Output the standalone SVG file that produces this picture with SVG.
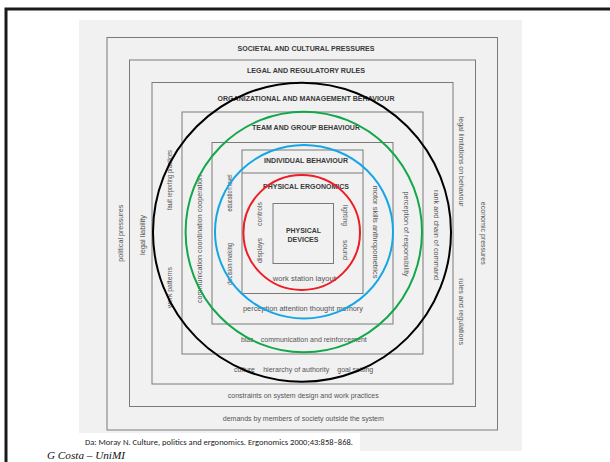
<svg xmlns="http://www.w3.org/2000/svg" width="610" height="462" viewBox="0 0 610 462">
  <style>
    .box { fill: none; stroke: #7a7a7a; stroke-width: 1; }
    .hd { font-family: "Liberation Sans", Arial, sans-serif; font-weight: bold; fill: #3a3a3a; text-anchor: middle; }
    .lb { font-family: "Liberation Sans", Arial, sans-serif; font-size: 7px; fill: #555; text-anchor: middle; }
    .ring { fill: none; stroke-width: 2; }
  </style>

  <rect width="610" height="462" fill="#ffffff"/>
  <!-- slide frame -->
  <path d="M6,462 V9 H610" fill="none" stroke="#1a1a1a" stroke-width="3"/>

  <!-- scanned figure background -->
  <rect x="79" y="20" width="443" height="431" fill="#f1f1f1"/>

  <!-- nested levels -->
  <g id="level-societal">
    <rect class="box" x="107" y="37.5" width="390.5" height="392.5"/>
    <text class="hd" x="306" y="50.5" font-size="6.5" textLength="137" lengthAdjust="spacingAndGlyphs">SOCIETAL AND CULTURAL PRESSURES</text>
    <text class="lb" x="303.3" y="420.5" textLength="161" lengthAdjust="spacingAndGlyphs">demands by members of society outside the system</text>
    <text class="lb" transform="translate(122.5,233.3) rotate(-90)" textLength="57" lengthAdjust="spacingAndGlyphs">political pressures</text>
    <text class="lb" transform="translate(481,233.3) rotate(90)" textLength="63" lengthAdjust="spacingAndGlyphs">economic pressures</text>
  </g>

  <g id="level-legal">
    <rect class="box" x="129.5" y="60" width="346" height="346.5"/>
    <text class="hd" x="306" y="73.3" font-size="6.5" textLength="118" lengthAdjust="spacingAndGlyphs">LEGAL AND REGULATORY RULES</text>
    <text class="lb" x="303.3" y="397.5" textLength="151" lengthAdjust="spacingAndGlyphs">constraints on system design and work practices</text>
    <text class="lb" transform="translate(145.2,235) rotate(-90)" textLength="40" lengthAdjust="spacingAndGlyphs">legal liability</text>
    <text class="lb" transform="translate(459.2,161.7) rotate(90)" textLength="90" lengthAdjust="spacingAndGlyphs">legal limitations on behaviour</text>
    <text class="lb" transform="translate(459.2,311.7) rotate(90)" textLength="67" lengthAdjust="spacingAndGlyphs">rules and regulations</text>
  </g>

  <g id="level-organizational">
    <rect class="box" x="152" y="82.5" width="301" height="301.5"/>
    <text class="hd" x="306" y="101" font-size="7.5" textLength="177" lengthAdjust="spacingAndGlyphs">ORGANIZATIONAL AND MANAGEMENT BEHAVIOUR</text>
    <text class="lb" x="244.5" y="371.5" textLength="21" lengthAdjust="spacingAndGlyphs">culture</text>
    <text class="lb" x="296.2" y="371.5" textLength="66" lengthAdjust="spacingAndGlyphs">hierarchy of authority</text>
    <text class="lb" x="355.3" y="371.5" textLength="36" lengthAdjust="spacingAndGlyphs">goal setting</text>
    <text class="lb" transform="translate(172,180) rotate(-90)" textLength="60" lengthAdjust="spacingAndGlyphs">fault reporting practices</text>
    <text class="lb" transform="translate(172,287.5) rotate(-90)" textLength="41" lengthAdjust="spacingAndGlyphs">work patterns</text>
    <text class="lb" transform="translate(434.2,235) rotate(90)" textLength="90" lengthAdjust="spacingAndGlyphs">rank and chain of command</text>
  </g>

  <g id="level-team">
    <rect class="box" x="182" y="112" width="241" height="242"/>
    <text class="hd" x="306" y="130" font-size="7.5" textLength="108" lengthAdjust="spacingAndGlyphs">TEAM AND GROUP BEHAVIOUR</text>
    <text class="lb" x="247.2" y="341.5" textLength="12.5" lengthAdjust="spacingAndGlyphs">bias</text>
    <text class="lb" x="313.8" y="341.5" textLength="106" lengthAdjust="spacingAndGlyphs">communication and reinforcement</text>
    <text class="lb" transform="translate(201.8,239) rotate(-90)" textLength="128" lengthAdjust="spacingAndGlyphs">communication coordination cooperation</text>
    <text class="lb" transform="translate(404.2,234) rotate(90)" textLength="85" lengthAdjust="spacingAndGlyphs">perception of responsibility</text>
  </g>

  <g id="level-individual">
    <rect class="box" x="212" y="142.5" width="181" height="181.5"/>
    <rect class="box" x="242" y="150" width="121" height="143.5"/>
    <line class="box" x1="242" y1="173" x2="363" y2="173"/>
    <text class="hd" x="306" y="163.3" font-size="7" textLength="84" lengthAdjust="spacingAndGlyphs">INDIVIDUAL BEHAVIOUR</text>
    <text class="lb" x="303" y="310.5" textLength="120" lengthAdjust="spacingAndGlyphs">perception attention thought memory</text>
    <text class="lb" transform="translate(231.8,193) rotate(-90)" textLength="37" lengthAdjust="spacingAndGlyphs">education level</text>
    <text class="lb" transform="translate(231.8,264) rotate(-90)" textLength="42" lengthAdjust="spacingAndGlyphs">decision making</text>
    <text class="lb" transform="translate(372.5,232) rotate(90)" textLength="93" lengthAdjust="spacingAndGlyphs">motor skills anthropometrics</text>
  </g>

  <g id="level-physical-ergonomics">
    <text class="hd" x="306" y="189" font-size="7.5" textLength="86" lengthAdjust="spacingAndGlyphs">PHYSICAL ERGONOMICS</text>
    <text class="lb" x="304.3" y="280.5" textLength="63" lengthAdjust="spacingAndGlyphs">work station layout</text>
    <text class="lb" transform="translate(261.8,214) rotate(-90)" textLength="24" lengthAdjust="spacingAndGlyphs">controls</text>
    <text class="lb" transform="translate(261.8,250.5) rotate(-90)" textLength="25" lengthAdjust="spacingAndGlyphs">displays</text>
    <text class="lb" transform="translate(343.2,215.5) rotate(90)" textLength="21" lengthAdjust="spacingAndGlyphs">lighting</text>
    <text class="lb" transform="translate(343.2,250) rotate(90)" textLength="20" lengthAdjust="spacingAndGlyphs">sound</text>
  </g>

  <g id="physical-devices">
    <rect class="box" x="273" y="203.5" width="60.5" height="60"/>
    <text class="hd" x="303.5" y="232.5" font-size="8" textLength="35" lengthAdjust="spacingAndGlyphs">PHYSICAL</text>
    <text class="hd" x="303" y="241.5" font-size="8" textLength="31" lengthAdjust="spacingAndGlyphs">DEVICES</text>
  </g>

  <!-- concentric rings -->
  <g id="rings">
    <ellipse class="ring" cx="302" cy="232.2" rx="149" ry="149.5" stroke="#000000"/>
    <ellipse class="ring" cx="303.8" cy="232" rx="118.2" ry="120.3" stroke="#12a84a"/>
    <ellipse class="ring" cx="304" cy="231.7" rx="89" ry="86.8" stroke="#16a6e6"/>
    <ellipse class="ring" cx="301.7" cy="232.5" rx="58.3" ry="57.5" stroke="#ee1c24"/>
  </g>

  <!-- source and author -->
  <rect x="79" y="433" width="281" height="18" fill="#ffffff"/>
  <text x="85" y="445" font-family="Carlito, 'Liberation Sans', sans-serif" font-size="8" fill="#222" textLength="268" lengthAdjust="spacingAndGlyphs">Da: Moray N. Culture, politics and ergonomics. Ergonomics 2000;43:858–868.</text>
  <text x="47" y="459" font-family="'Liberation Serif', 'Times New Roman', serif" font-style="italic" font-size="11" fill="#111" textLength="78" lengthAdjust="spacingAndGlyphs">G Costa –  UniMI</text>
</svg>
